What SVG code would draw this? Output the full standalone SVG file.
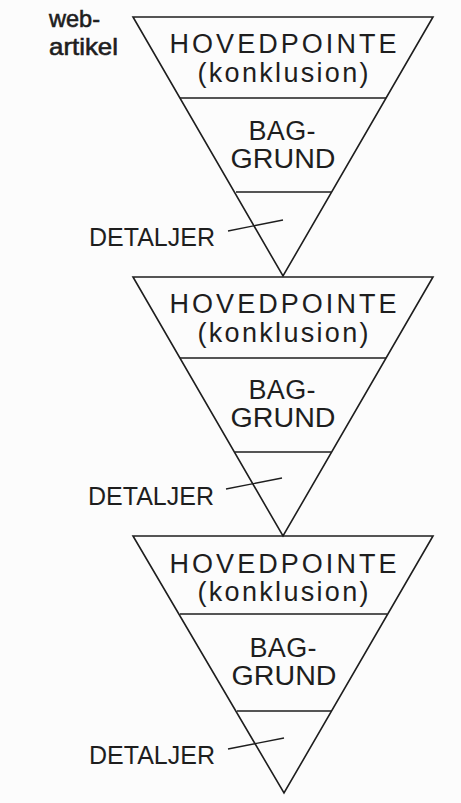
<svg xmlns="http://www.w3.org/2000/svg" width="461" height="803" viewBox="0 0 461 803">
<style>
.bg{fill:#fcfcfc}
.tri{fill:none;stroke:#1e1e1e;stroke-width:1.6;stroke-linejoin:miter}
.div{stroke:#1e1e1e;stroke-width:1.6}
.lead{stroke:#1e1e1e;stroke-width:1.4}
.t{font-family:"Liberation Sans",Arial,sans-serif;fill:#1e1e1e;text-anchor:middle;font-size:27px}
.d{font-family:"Liberation Sans",Arial,sans-serif;fill:#1e1e1e;font-size:26px}
.w{font-family:"Liberation Sans",Arial,sans-serif;fill:#1e1e1e;font-size:24px;stroke:#1e1e1e;stroke-width:0.6}
</style>
<rect class="bg" x="0" y="0" width="461" height="803"/>
<g id="label-web">
<text class="w" x="49" y="27" textLength="51" lengthAdjust="spacingAndGlyphs">web-</text>
<text class="w" x="49" y="55" textLength="69" lengthAdjust="spacingAndGlyphs">artikel</text>
</g>
<g id="pyramid1">
<polygon class="tri" points="133,17 433,17 283,276"/>
<line class="div" x1="180" y1="98" x2="386" y2="98"/>
<line class="div" x1="236" y1="192" x2="331" y2="192"/>
<text class="t" x="283" y="53" textLength="227" lengthAdjust="spacing">HOVEDPOINTE</text>
<text class="t" x="283" y="82" textLength="171" lengthAdjust="spacing">(konklusion)</text>
<text class="t" x="282" y="140" textLength="67" lengthAdjust="spacing">BAG-</text>
<text class="t" x="283" y="168" textLength="105" lengthAdjust="spacingAndGlyphs">GRUND</text>
<text class="d" x="89" y="246" textLength="126" lengthAdjust="spacingAndGlyphs">DETALJER</text>
</g>
<g id="pyramid2">
<polygon class="tri" points="133,277 433,277 283,536"/>
<line class="div" x1="180" y1="358" x2="386" y2="358"/>
<line class="div" x1="235" y1="452" x2="331" y2="452"/>
<text class="t" x="283" y="313" textLength="227" lengthAdjust="spacing">HOVEDPOINTE</text>
<text class="t" x="283" y="342" textLength="171" lengthAdjust="spacing">(konklusion)</text>
<text class="t" x="282" y="399" textLength="67" lengthAdjust="spacing">BAG-</text>
<text class="t" x="283" y="427" textLength="105" lengthAdjust="spacingAndGlyphs">GRUND</text>
<text class="d" x="88" y="505" textLength="126" lengthAdjust="spacingAndGlyphs">DETALJER</text>
</g>
<g id="pyramid3">
<polygon class="tri" points="133,536 433,536 284,793"/>
<line class="div" x1="180" y1="614" x2="387" y2="614"/>
<line class="div" x1="237" y1="711" x2="332" y2="711"/>
<text class="t" x="283" y="573" textLength="227" lengthAdjust="spacing">HOVEDPOINTE</text>
<text class="t" x="283" y="601" textLength="171" lengthAdjust="spacing">(konklusion)</text>
<text class="t" x="283" y="657" textLength="67" lengthAdjust="spacing">BAG-</text>
<text class="t" x="284" y="685" textLength="105" lengthAdjust="spacingAndGlyphs">GRUND</text>
<text class="d" x="89" y="764" textLength="126" lengthAdjust="spacingAndGlyphs">DETALJER</text>
</g>
<g id="connectors">
<line class="lead" x1="228" y1="231" x2="283" y2="220"/>
<line class="lead" x1="226" y1="489" x2="282" y2="478"/>
<line class="lead" x1="228" y1="749" x2="284" y2="738"/>
</g>
</svg>
